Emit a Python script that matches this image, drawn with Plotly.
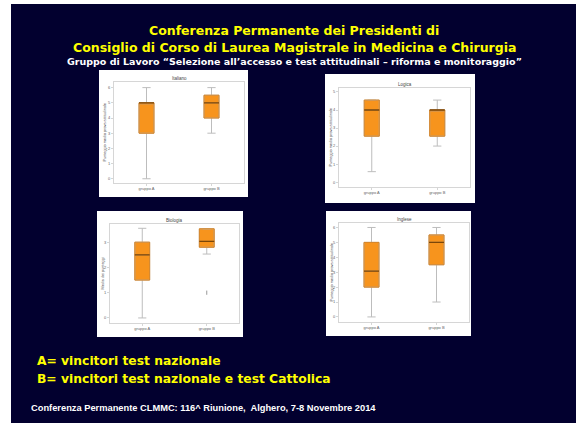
import plotly.graph_objects as go

W, H = 576, 423

# ---------------- data ----------------
groups = ["gruppo A", "gruppo B"]
panel_titles = ["Italiano", "Logica", "Biologia", "Inglese"]
panel_ylabels = ["Punteggio medio prova attitudinale", "Punteggio medio prova attitudinale",
                 "Media dei punteggi", "Punteggio medio prova attitudinale"]

q1_vals = [[3.0, 4.0], [2.55, 2.55], [1.5, 2.8], [2.0, 3.5]]
median_vals = [[5.0, 5.0], [4.0, 4.0], [2.5, 3.03], [3.07, 5.0]]
q3_vals = [[5.0, 5.5], [4.55, 4.0], [3.0, 3.53], [5.0, 5.5]]
low_vals = [[0.0, 3.0], [0.58, 2.0], [0.0, 2.53], [0.0, 1.0]]
up_vals = [[6.0, 6.0], [4.55, 4.55], [3.55, 3.53], [6.0, 6.0]]
outlier_panel = [2]
outlier_group = ["gruppo B"]
outlier_vals = [1.0]

tick_vals = [[0, 1, 2, 3, 4, 5, 6], [0, 1, 2, 3, 4, 5], [0, 1, 2, 3], [0, 1, 2, 3, 4, 5, 6]]
y_ranges = [[-0.28, 6.37], [-0.27, 5.22], [-0.2, 3.72], [-0.34, 6.3]]

title_l1 = "Conferenza Permanente dei Presidenti di"
title_l2 = "Consiglio di Corso di Laurea Magistrale in Medicina e Chirurgia"
subtitle = "Gruppo di Lavoro \u201cSelezione all\u2019accesso e test attitudinali \u2013 riforma e monitoraggio\u201d"
legend_a = "A= vincitori test nazionale"
legend_b = "B= vincitori test nazionale e test Cattolica"
footer = "Conferenza Permanente CLMMC: 116^ Riunione,  Alghero, 7-8 Novembre 2014"

# ---------------- layout geometry (pixels) ----------------
panels_px = [(99, 70, 248, 197), (325, 74, 475, 203), (97, 211, 243, 337), (326, 211, 471, 336)]
frames_px = [(114, 82, 244, 183), (339, 88, 470, 187), (110, 224, 239, 323), (339, 223, 469, 322)]
ylab_x = [104, 330, 102, 331]


def px(x):
    return x / W


def py(y):
    return 1 - y / H


NAVY = "#02002f"
ORANGE = "#f7941d"
EDGE = "#d9801a"
MED = "#7a4608"
WHISK = "#bdbdbd"
GREY_TXT = "#666666"

fig = go.Figure()
layout = {}
shapes = []
annotations = []

# white slide margins
shapes.append(dict(type="rect", xref="paper", yref="paper", x0=0, x1=px(11), y0=0, y1=1,
                   fillcolor="white", line_width=0, layer="below"))
shapes.append(dict(type="rect", xref="paper", yref="paper", x0=0, x1=1, y0=py(4), y1=1,
                   fillcolor="white", line_width=0, layer="below"))

for i in range(4):
    n = i + 1
    xa = "x" if n == 1 else f"x{n}"
    ya = "y" if n == 1 else f"y{n}"
    l, t, r, b = panels_px[i]
    shapes.append(dict(type="rect", xref="paper", yref="paper", x0=px(l), x1=px(r), y0=py(b), y1=py(t),
                       fillcolor="white", line_width=0, layer="below"))
    fl, ft, fr, fb = frames_px[i]
    fig.add_trace(go.Box(
        x=groups, q1=q1_vals[i], median=median_vals[i], q3=q3_vals[i],
        lowerfence=low_vals[i], upperfence=up_vals[i],
        fillcolor=ORANGE, line=dict(color=WHISK, width=1), width=0.23, whiskerwidth=0.55,
        boxpoints=False, xaxis=xa, yaxis=ya, showlegend=False, hoverinfo="skip"))
    fig.add_trace(go.Box(
        x=groups, q1=q1_vals[i], median=median_vals[i], q3=q3_vals[i],
        lowerfence=q1_vals[i], upperfence=q3_vals[i],
        fillcolor="rgba(0,0,0,0)", line=dict(color=EDGE, width=1), width=0.23, whiskerwidth=0,
        boxpoints=False, xaxis=xa, yaxis=ya, showlegend=False, hoverinfo="skip"))
    fig.add_trace(go.Box(
        x=groups, q1=median_vals[i], median=median_vals[i], q3=median_vals[i],
        lowerfence=median_vals[i], upperfence=median_vals[i],
        fillcolor="rgba(0,0,0,0)", line=dict(color=MED, width=1.3), width=0.23, whiskerwidth=0,
        boxpoints=False, xaxis=xa, yaxis=ya, showlegend=False, hoverinfo="skip"))
    xs = [g for p, g in zip(outlier_panel, outlier_group) if p == i]
    ys = [v for p, v in zip(outlier_panel, outlier_vals) if p == i]
    if xs:
        fig.add_trace(go.Scatter(x=xs, y=ys, mode="markers", xaxis=xa, yaxis=ya, showlegend=False,
                                 marker=dict(symbol="line-ns", size=3, line=dict(color="#999999", width=1)),
                                 hoverinfo="skip"))
    axkw = dict(showline=True, mirror=True, linecolor="#d6d6d6", linewidth=1, showgrid=False,
                zeroline=False, tickfont=dict(size=4, color=GREY_TXT, family="Liberation Sans"))
    layout["xaxis" if n == 1 else f"xaxis{n}"] = dict(
        domain=[px(fl), px(fr)], anchor=ya, type="category", range=[-0.5, 1.5],
        ticks="outside", ticklen=1.5, tickcolor="#d6d6d6", **axkw)
    layout["yaxis" if n == 1 else f"yaxis{n}"] = dict(
        domain=[py(fb), py(ft)], anchor=xa, range=y_ranges[i], tickvals=tick_vals[i],
        ticks="outside", ticklen=2, tickcolor="#d6d6d6", **axkw)
    annotations.append(dict(text=panel_titles[i], xref="paper", yref="paper", x=px((fl + fr) / 2),
                            y=py(ft - 4), showarrow=False, xanchor="center", yanchor="middle",
                            font=dict(size=4.5, color="#444444", family="Liberation Sans")))
    annotations.append(dict(text=panel_ylabels[i], xref="paper", yref="paper", x=px(ylab_x[i]),
                            y=py((ft + fb) / 2), showarrow=False, textangle=-90,
                            xanchor="center", yanchor="middle",
                            font=dict(size=3.8, color="#444444", family="Liberation Sans")))

YEL = "#ffff00"
annotations += [
    dict(text=f"<b>{title_l1}</b>", x=px(294), y=py(31), xref="paper", yref="paper", showarrow=False,
         xanchor="center", yanchor="middle", font=dict(size=12.5, color=YEL, family="DejaVu Sans")),
    dict(text=f"<b>{title_l2}</b>", x=px(294), y=py(47), xref="paper", yref="paper", showarrow=False,
         xanchor="center", yanchor="middle", font=dict(size=12.5, color=YEL, family="DejaVu Sans")),
    dict(text=f"<b>{subtitle}</b>", x=px(294), y=py(62), xref="paper", yref="paper", showarrow=False,
         xanchor="center", yanchor="middle", font=dict(size=9.5, color="white", family="DejaVu Sans")),
    dict(text=f"<b>{legend_a}</b>", x=px(35), y=py(361), xref="paper", yref="paper", showarrow=False,
         xanchor="left", yanchor="middle", font=dict(size=12.3, color=YEL, family="DejaVu Sans")),
    dict(text=f"<b>{legend_b}</b>", x=px(35), y=py(379), xref="paper", yref="paper", showarrow=False,
         xanchor="left", yanchor="middle", font=dict(size=12.3, color=YEL, family="DejaVu Sans")),
    dict(text=f"<b>{footer}</b>", x=px(29), y=py(408), xref="paper", yref="paper", showarrow=False,
         xanchor="left", yanchor="middle", font=dict(size=9.3, color="white", family="Liberation Sans")),
]

fig.update_layout(width=W, height=H, margin=dict(l=0, r=0, t=0, b=0),
                  paper_bgcolor=NAVY, plot_bgcolor="white", shapes=shapes, annotations=annotations,
                  boxmode="overlay", **layout)

fig.write_html("out.html", config={"displayModeBar": False},
               post_script="document.body.style.margin='0';document.body.style.overflow='hidden';")
